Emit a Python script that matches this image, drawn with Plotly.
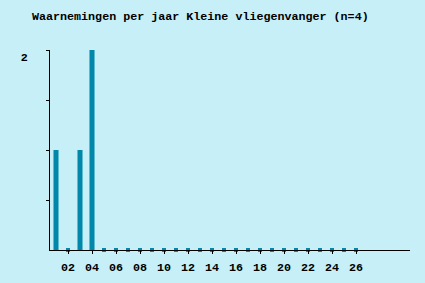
import plotly.graph_objects as go

years = list(range(1, 27))
counts = [1, 0, 1, 2] + [0] * 22
tick_years = list(range(2, 27, 2))
tick_labels = ["%02d" % y for y in tick_years]

BG = "#c6eff8"
BAR = "#0087a9"
FONT = dict(family="Liberation Mono", size=11.7, color="black", weight="bold")

fig = go.Figure()
fig.add_trace(go.Bar(x=years, y=counts, width=0.42, marker=dict(color=BAR, line=dict(width=0))))
zero_years = [y for y, c in zip(years, counts) if c == 0]
fig.add_trace(go.Scatter(x=zero_years, y=[0] * len(zero_years), mode="markers",
                         marker=dict(symbol="square", size=4, color=BAR, line=dict(width=0)),
                         cliponaxis=False, hoverinfo="skip"))

fig.update_layout(
    width=425, height=283,
    margin=dict(l=50, r=15, t=50, b=33, autoexpand=False),
    paper_bgcolor=BG, plot_bgcolor=BG,
    showlegend=False,
    title=dict(text="Waarnemingen per jaar Kleine vliegenvanger (n=4)", x=32 / 425, xanchor="left",
               y=1 - 16 / 283, yanchor="middle", font=FONT),
    font=FONT,
)
fig.update_xaxes(range=[0.5, 30.5], showgrid=False, zeroline=False, showline=True, linecolor="black",
                 linewidth=1, tickmode="array", tickvals=tick_years, ticktext=tick_labels,
                 ticks="outside", ticklen=3, tickcolor="black", tickfont=FONT, ticklabelstandoff=3,
                 automargin=False)
fig.update_yaxes(range=[0, 2], showgrid=False, zeroline=False, showline=True, linecolor="black",
                 linewidth=1, tickmode="array", tickvals=[0.5, 1, 1.5, 2], ticktext=["", "", "", "2"],
                 ticks="outside", ticklen=3, tickcolor="black", tickfont=FONT,
                 ticklabelstandoff=16, ticklabelshift=7, automargin=False)

fig.write_html("out.html")
